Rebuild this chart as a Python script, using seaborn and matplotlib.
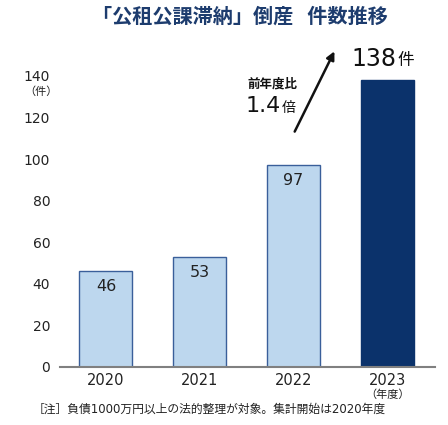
import matplotlib
matplotlib.use('Agg')
import matplotlib.pyplot as plt
import seaborn as sns
import pandas as pd

years = ['2020', '2021', '2022', '2023']
counts = [46, 53, 97, 138]
bar_colors = ['#bdd7ee', '#bdd7ee', '#bdd7ee', '#0b326b']
edge_colors = ['#3a5f9a', '#3a5f9a', '#3a5f9a', '#0b326b']
yticks = [0, 20, 40, 60, 80, 100, 120, 140]

sns.set_style('white')
plt.rcParams['font.family'] = ['DejaVu Sans', 'Noto Sans CJK JP']

df = pd.DataFrame({'year': years, 'count': counts})

fig = plt.figure(figsize=(4.48, 4.25), dpi=100)
ax = fig.add_axes([0.134, 0.1365, 0.837, 0.685])

sns.barplot(data=df, x='year', y='count', hue='year', palette=bar_colors,
            saturation=1, width=0.566, legend=False, ax=ax, linewidth=1.0)
for patch, ec in zip(ax.patches, edge_colors):
    patch.set_edgecolor(ec)

ax.set_ylim(0, 140)
ax.set_xlim(-0.49, 3.51)
ax.set_yticks(yticks)
ax.set_yticklabels([str(t) for t in yticks], fontsize=10, color='#222222')
ax.tick_params(axis='y', length=0, pad=7)
ax.tick_params(axis='x', length=0, pad=4, labelsize=10.5, labelcolor='#222222')
ax.set_xlabel('')
ax.set_ylabel('')
for s in ['top', 'right', 'left']:
    ax.spines[s].set_visible(False)
ax.spines['bottom'].set_color('#808080')
ax.spines['bottom'].set_linewidth(1.5)

# value labels inside the light bars
for i, v in enumerate(counts[:3]):
    ax.text(i, v - 7.5, str(v), ha='center', va='center', fontsize=11.5,
            color='#222222')

# unit under 140
fig.text(0.092, 0.785, '（件）', ha='center', va='center', fontsize=8,
         color='#222222')

# 2023 big label
ax.text(3.1, 148, '138', ha='right', va='center', fontsize=17, color='#111111',
        clip_on=False)
ax.text(3.11, 147.5, '件', ha='left', va='center', fontsize=12, color='#111111',
        clip_on=False)

# growth arrow
ax.annotate('', xy=(2.45, 153), xytext=(2.0, 112),
            arrowprops=dict(arrowstyle='-|>', color='#111111', lw=1.8,
                            mutation_scale=12), annotation_clip=False)
ax.text(1.78, 136, '前年度比', ha='center', va='center', fontsize=9,
        fontweight='bold', color='#111111')
ax.text(1.87, 125.5, '1.4', ha='right', va='center', fontsize=16, color='#111111')
ax.text(1.88, 124.5, '倍', ha='left', va='center', fontsize=10, color='#111111')

# title
fig.text(0.535, 0.96, '「公租公課滞納」倒産  件数推移', ha='center', va='center',
         fontsize=14.5, fontweight='bold', color='#1d3c6e')

# year unit and note
ax.text(3.0, -13.5, '（年度）', ha='center', va='center', fontsize=8,
        color='#222222', clip_on=False)
fig.text(0.072, 0.038, '［注］負債1000万円以上の法的整理が対象。集計開始は2020年度',
         ha='left', va='center', fontsize=8.5, color='#222222')

fig.savefig('out.png', dpi=100)
